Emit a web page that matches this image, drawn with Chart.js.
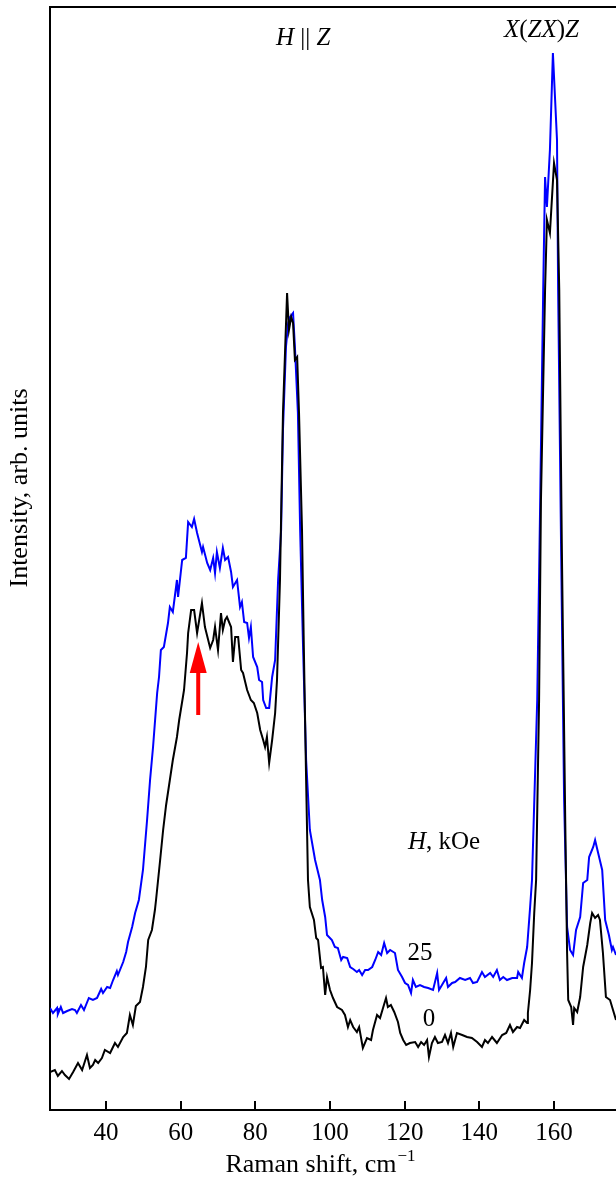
<!DOCTYPE html>
<html>
<head>
<meta charset="utf-8">
<script src="https://cdn.jsdelivr.net/npm/chart.js@4/dist/chart.umd.min.js"></script>
<style>
  html, body { margin: 0; padding: 0; background: #fff; }
  canvas { display: block; }
</style>
</head>
<body>
<canvas id="ramanChart" width="616" height="1180"></canvas>
<script>
// Raman spectra, H || Z, X(ZX)Z geometry, at H = 0 and 25 kOe
const xTicks = [40, 60, 80, 100, 120, 140, 160];

// H = 0 kOe (black)
const shiftH0 = [25.0, 26.3, 27.1, 28.2, 29.0, 30.1, 31.2, 32.5, 33.6, 34.9, 35.7, 36.5, 37.1, 37.9, 38.9, 39.7,
  41.1, 42.4, 43.2, 44.6, 45.6, 46.4, 47.2, 48.0, 49.1, 49.9, 50.7, 51.3, 52.3, 53.1, 53.4, 54.5, 55.3, 56.1,
  57.1, 57.9, 59.0, 59.6, 60.6, 60.9, 61.7, 62.0, 62.8, 63.6, 64.4, 65.7, 66.5, 67.9, 68.7, 69.2, 70.0, 70.8,
  71.3, 71.9, 72.4, 73.5, 74.0, 74.6, 75.4, 76.2, 76.7, 77.8, 78.8, 79.6, 80.5, 81.3, 82.1, 82.6, 83.1, 83.7,
  84.5, 85.3, 85.8, 86.6, 87.4, 88.0, 88.5, 89.0, 89.6, 90.1, 90.6, 91.2, 91.7, 92.5, 93.0, 93.6, 94.1, 94.6,
  95.7, 96.3, 96.8, 97.6, 98.1, 98.7, 99.2, 100.0, 100.8, 101.9, 103.2, 104.0, 104.8, 105.4, 106.2, 107.2,
  107.8, 108.8, 109.9, 111.0, 111.5, 112.6, 113.4, 114.2, 115.0, 115.5, 116.3, 117.2, 118.2, 118.8, 119.6,
  120.4, 121.4, 122.8, 123.6, 124.4, 125.2, 126.0, 126.5, 127.3, 128.1, 128.9, 130.0, 130.8, 131.6, 132.4,
  133.0, 134.0, 135.4, 136.7, 138.0, 139.4, 140.7, 141.5, 142.3, 143.4, 144.7, 146.1, 147.2, 148.2, 149.0,
  150.1, 150.9, 152.0, 152.8, 153.0, 153.6, 154.1, 154.7, 155.2, 156.0, 156.5, 157.6, 158.1, 158.9, 160.0,
  160.8, 161.4, 162.1, 163.0, 163.5, 163.8, 164.6, 165.1, 165.4, 166.2, 167.0, 167.8, 168.9, 169.7, 170.2,
  171.0, 171.8, 172.3, 173.1, 173.9, 175.0, 175.8, 176.6];
const intensityH0 = [3.8, 4.0, 3.4, 3.9, 3.5, 3.1, 3.8, 4.7, 4.0, 5.5, 4.2, 4.5, 5.0, 4.7, 5.2, 6.0,
  5.7, 6.7, 6.3, 7.3, 7.7, 9.5, 8.5, 10.4, 10.8, 12.3, 14.3, 17.0, 18.0, 20.0, 21.0, 25.0, 28.0, 30.5,
  33.0, 35.0, 37.3, 39.0, 41.3, 42.0, 45.7, 47.7, 50.0, 50.0, 47.7, 50.7, 48.3, 46.2, 47.0, 48.3, 46.0, 49.7,
  48.0, 49.0, 49.3, 48.3, 44.8, 47.3, 47.3, 44.0, 43.7, 42.0, 41.0, 40.7, 39.7, 38.0, 37.0, 36.3, 37.3, 34.7,
  37.0, 39.7, 43.0, 53.0, 69.7, 76.3, 81.7, 78.0, 79.3, 78.7, 75.0, 75.3, 69.7, 58.0, 46.0, 33.0, 23.0, 20.3,
  19.0, 17.2, 17.0, 14.2, 14.3, 11.5, 13.3, 12.0, 11.2, 10.3, 10.0, 9.5, 8.3, 9.0, 8.3, 7.8,
  8.3, 6.2, 7.2, 7.0, 8.0, 9.5, 9.2, 10.2, 11.2, 10.3, 10.5, 9.8, 8.8, 7.7, 7.0,
  6.5, 6.7, 6.8, 6.3, 6.8, 6.5, 7.0, 5.3, 6.7, 7.3, 6.7, 6.8, 7.5, 6.7, 7.7,
  6.3, 7.7, 7.5, 7.3, 7.2, 6.8, 6.3, 7.0, 6.7, 7.3, 6.7, 7.5, 7.7, 8.5, 7.8,
  8.3, 8.2, 9.0, 8.7, 9.7, 12.0, 14.7, 19.7, 23.0, 41.0, 61.0, 82.0, 89.0, 87.7, 94.7,
  93.0, 82.0, 56.0, 29.0, 15.7, 11.0, 10.3, 8.5, 10.2, 9.8, 11.3, 14.3, 16.5, 18.7, 19.7,
  19.2, 19.5, 19.0, 15.7, 11.3, 11.0, 10.0, 9.0];

// H = 25 kOe (blue)
const shiftH25 = [25.0, 25.8, 26.9, 27.1, 27.9, 28.5, 29.6, 30.9, 31.7, 32.2, 33.3, 34.1, 35.4, 36.5, 37.6,
  38.7, 39.2, 40.3, 41.1, 41.9, 42.9, 43.2, 44.6, 45.4, 45.9, 47.0, 47.8, 48.8, 49.9, 51.0, 51.8, 52.6, 53.7,
  54.2, 54.7, 55.5, 56.6, 57.1, 57.9, 59.0, 59.3, 60.4, 61.4, 62.0, 63.0, 63.6, 64.4, 65.7, 66.0, 67.1, 67.9,
  68.7, 69.2, 69.7, 70.5, 71.3, 71.9, 72.7, 73.5, 74.0, 75.1, 75.9, 76.4, 77.0, 77.8, 78.3, 78.8, 79.4, 80.5,
  81.0, 81.8, 82.1, 82.9, 83.7, 84.5, 85.3, 86.1, 86.9, 87.4, 88.2, 88.8, 89.3, 90.1, 90.6, 91.4, 92.0, 92.8,
  93.6, 94.6, 96.0, 97.3, 97.9, 98.7, 99.2, 100.5, 101.3, 102.1, 103.0, 103.5, 104.6, 105.4, 106.2, 107.2,
  107.8, 108.6, 109.4, 110.2, 111.3, 112.1, 112.9, 113.7, 114.5, 115.3, 116.1, 117.4, 118.2, 119.3, 120.1,
  120.9, 121.7, 122.2, 123.0, 124.1, 125.2, 126.3, 127.6, 128.7, 129.2, 130.3, 131.1, 131.6, 132.7, 133.5,
  134.8, 136.2, 137.5, 138.3, 139.4, 140.7, 141.5, 142.9, 143.7, 144.7, 145.5, 146.4, 147.4, 148.8, 150.1,
  150.4, 151.4, 152.0, 152.8, 153.6, 154.1, 155.5, 156.3, 157.1, 157.6, 158.1, 158.9, 159.7, 160.8, 161.1,
  161.9, 162.7, 163.5, 164.3, 165.1, 165.9, 167.0, 167.8, 168.9, 169.4, 170.5, 171.0, 171.5, 172.9, 173.7,
  174.7, 175.5, 175.8, 176.6];
const intensityH25 = [10.2, 9.7, 10.2, 9.6, 10.3, 9.7, 9.9, 10.1, 10.0, 9.7, 10.5, 10.0, 11.2, 11.0, 11.2,
  12.1, 11.7, 12.3, 12.2, 13.0, 13.9, 13.5, 14.8, 15.8, 16.8, 18.3, 19.7, 21.0, 24.0, 29.0, 33.0, 36.3, 41.7,
  43.3, 46.0, 46.3, 48.7, 50.3, 49.8, 53.0, 51.3, 55.0, 55.2, 58.8, 58.3, 59.1, 57.7, 55.8, 56.3, 54.7, 54.0,
  55.2, 53.7, 55.8, 54.2, 56.2, 55.0, 55.3, 53.8, 52.3, 53.0, 50.3, 50.8, 48.8, 48.7, 47.2, 48.3, 45.3, 44.3,
  43.0, 42.8, 41.0, 40.2, 40.2, 43.3, 45.0, 53.0, 58.0, 68.0, 76.3, 78.7, 79.3, 79.7, 76.3, 69.7, 58.0, 46.0,
  35.0, 28.0, 25.0, 23.0, 21.0, 19.3, 17.5, 17.0, 16.3, 16.2, 15.0, 15.3, 15.2, 14.3, 14.1, 13.8,
  14.0, 13.5, 14.0, 14.0, 14.3, 15.0, 15.8, 15.5, 16.7, 15.7, 16.0, 15.7, 14.0, 13.3, 12.7,
  12.5, 11.7, 13.0, 12.3, 12.5, 12.3, 12.2, 12.0, 13.7, 12.0, 12.7, 13.2, 12.3, 12.7, 12.8,
  13.2, 13.0, 13.2, 12.7, 12.8, 13.8, 13.3, 13.7, 13.3, 14.0, 13.0, 13.3, 13.0, 13.2, 13.2,
  13.8, 13.2, 14.7, 16.3, 20.3, 23.0, 41.0, 61.0, 82.0, 93.3, 90.3, 96.0, 105.7, 97.0, 82.0,
  56.0, 31.0, 18.3, 16.0, 15.5, 18.0, 19.3, 22.7, 23.0, 25.3, 26.3, 27.0, 26.2, 24.0, 19.0,
  17.5, 16.0, 16.3, 15.5];

const toPoints = (xs, ys) => xs.map((x, i) => ({ x: x, y: ys[i] }));

const serif = '"Liberation Serif", "Times New Roman", serif';

// draws a run of [text, italic] pieces starting at x
function drawPieces(ctx, pieces, x, y, size) {
  let cx = x;
  pieces.forEach(([txt, it]) => {
    ctx.font = (it ? 'italic ' : '') + size + 'px ' + serif;
    ctx.fillText(txt, cx, y);
    cx += ctx.measureText(txt).width;
  });
}

const decorations = {
  id: 'decorations',
  afterDraw(chart) {
    const ctx = chart.ctx;
    const { left, top, right, bottom } = chart.chartArea;
    const xs = chart.scales.x, ys = chart.scales.y;
    ctx.save();
    ctx.strokeStyle = '#000';
    ctx.lineWidth = 2;
    // top frame line
    ctx.beginPath();
    ctx.moveTo(left - 1, top);
    ctx.lineTo(right, top);
    ctx.stroke();
    // inward tick marks
    xs.ticks.forEach(t => {
      const px = Math.round(xs.getPixelForValue(t.value));
      ctx.beginPath();
      ctx.moveTo(px, bottom);
      ctx.lineTo(px, bottom - 9);
      ctx.stroke();
    });

    ctx.fillStyle = '#000';
    ctx.textBaseline = 'alphabetic';
    ctx.textAlign = 'left';
    drawPieces(ctx, [['H', true], [' || ', false], ['Z', true]], 276, 45, 25);
    drawPieces(ctx, [['X', true], ['(', false], ['ZX', true], [')', false], ['Z', true]], 504, 37, 25);
    drawPieces(ctx, [['H', true], [', kOe', false]], 408, 849, 25);
    ctx.font = '25px ' + serif;
    ctx.textAlign = 'center';
    ctx.fillText('25', 420, 960);
    ctx.fillText('0', 429, 1026);

    // x axis title with superscript
    ctx.textAlign = 'left';
    const main = 'Raman shift, cm';
    ctx.font = '17px ' + serif;
    const supW = ctx.measureText('\u22121').width;
    ctx.font = '26px ' + serif;
    const mainW = ctx.measureText(main).width;
    const tx = 320 - (mainW + supW) / 2;
    ctx.fillText(main, tx, 1172);
    ctx.font = '17px ' + serif;
    ctx.fillText('\u22121', tx + mainW + 1, 1161);

    // y axis title
    ctx.save();
    ctx.translate(27, 488);
    ctx.rotate(-Math.PI / 2);
    ctx.textAlign = 'center';
    ctx.font = '26px ' + serif;
    ctx.fillText('Intensity, arb. units', 0, 0);
    ctx.restore();

    // red arrow marking the feature near 65 cm-1
    const ax = xs.getPixelForValue(64.7);
    const tipY = ys.getPixelForValue(46.8);
    const baseY = ys.getPixelForValue(39.5);
    ctx.fillStyle = '#ff0000';
    ctx.strokeStyle = '#ff0000';
    ctx.lineWidth = 4;
    ctx.beginPath();
    ctx.moveTo(ax, tipY + 25);
    ctx.lineTo(ax, baseY);
    ctx.stroke();
    ctx.beginPath();
    ctx.moveTo(ax, tipY);
    ctx.lineTo(ax - 8.5, tipY + 31);
    ctx.lineTo(ax + 8.5, tipY + 31);
    ctx.closePath();
    ctx.fill();
    ctx.restore();
  }
};

new Chart(document.getElementById('ramanChart').getContext('2d'), {
  type: 'line',
  data: {
    datasets: [
      {
        label: '0 kOe',
        data: toPoints(shiftH0, intensityH0),
        borderColor: '#000000',
        borderWidth: 2,
        pointRadius: 0,
        tension: 0,
        fill: false
      },
      {
        label: '25 kOe',
        data: toPoints(shiftH25, intensityH25),
        borderColor: '#0000ff',
        borderWidth: 2,
        pointRadius: 0,
        tension: 0,
        fill: false
      }
    ]
  },
  options: {
    responsive: false,
    animation: false,
    layout: { padding: { left: 50, top: 7, right: 0, bottom: 30 } },
    plugins: { legend: { display: false }, tooltip: { enabled: false } },
    scales: {
      x: {
        type: 'linear',
        min: 25,
        max: 176.6,
        afterBuildTicks: (scale) => { scale.ticks = xTicks.map(v => ({ value: v })); },
        afterFit: (scale) => { scale.height = 40; },
        grid: { display: false },
        border: { display: true, color: '#000', width: 2 },
        ticks: {
          color: '#000',
          padding: 0,
          maxRotation: 0,
          font: { family: serif, size: 25 }
        }
      },
      y: {
        type: 'linear',
        min: 0,
        max: 110.3,
        afterFit: (scale) => { scale.width = 0; },
        grid: { display: false },
        border: { display: true, color: '#000', width: 2 },
        ticks: { display: false }
      }
    }
  },
  plugins: [decorations]
});
</script>
</body>
</html>
